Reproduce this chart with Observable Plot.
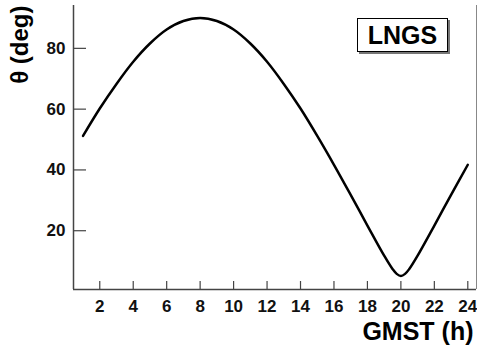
<!DOCTYPE html>
<html>
<head>
<meta charset="utf-8">
<script src="https://cdn.jsdelivr.net/npm/d3@7"></script>
<script src="https://cdn.jsdelivr.net/npm/@observablehq/plot@0.6"></script>
<style>
  html, body { margin: 0; padding: 0; background: #fff; }
  #wrap { position: relative; width: 477px; height: 347px; }
  #tag {
    position: absolute; left: 357px; top: 18px; width: 89px; height: 32px;
    border: 1.5px solid #000; box-shadow: 2px 2px 0 #777; background: #fff;
    font: bold 25px "Liberation Sans", Arial, sans-serif; color: #000;
    display: flex; align-items: center; justify-content: center;
  }
</style>
</head>
<body>
<div id="wrap"></div>
<script>
const hours = [1,2,3,4,5,6,7,8,9,10,11,12,13,14,15,16,17,18,19,19.5,19.75,20,20.25,20.5,21,22,23,24];
const theta = [51.2,60.2,68.3,75.6,81.6,86.2,89.0,90.0,89.0,86.2,81.6,75.6,68.3,60.2,51.2,41.7,31.8,21.7,11.8,7.4,5.8,5.1,5.8,7.4,11.8,21.7,31.8,41.7];
const xTicks = [2,4,6,8,10,12,14,16,18,20,22,24];
const yTicks = [20,40,60,80];
const xDomain = [0.43, 24.52];
const yDomain = [0.66, 94.1];
const xLabel = "GMST (h)";
const yLabel = "θ (deg)";
const siteLabel = "LNGS";

const data = hours.map((h, i) => ({h, t: theta[i]}));

const W = 477, H = 347, mL = 73, mR = 1, mT = 5, mB = 58;
const fw = W - mL - mR, fh = H - mT - mB;

const chart = Plot.plot({
  width: W, height: H,
  marginLeft: mL, marginRight: mR, marginTop: mT, marginBottom: mB,
  style: {fontFamily: "'Liberation Sans', Arial, sans-serif", fontSize: "17px", fontWeight: "bold", color: "#111", background: "#fff"},
  x: {domain: xDomain, ticks: xTicks, tickSize: 0, tickPadding: 10, label: null},
  y: {domain: yDomain, ticks: yTicks, tickSize: 0, tickPadding: 8, label: null},
  marks: [
    Plot.ruleX([xDomain[1]], {stroke: "#888", strokeWidth: 1}),
    Plot.ruleX([xDomain[0]], {stroke: "#444", strokeWidth: 1.5}),
    Plot.ruleY([yDomain[0]], {stroke: "#444", strokeWidth: 1.5}),
    Plot.tickX(xTicks, {x: d => d, insetTop: fh - 8, stroke: "#444", strokeWidth: 1.2}),
    Plot.tickY(yTicks, {y: d => d, insetRight: fw - 13, stroke: "#444", strokeWidth: 1.2}),
    Plot.line(data, {x: "h", y: "t", curve: "catmull-rom", stroke: "#000", strokeWidth: 2.5}),
    Plot.text([yLabel], {text: d => d, frameAnchor: "top-left", rotate: -90, textAnchor: "end", lineAnchor: "middle", dx: -53, dy: 0, fontSize: 24, fontWeight: "bold", fill: "#000"}),
    Plot.text([xLabel], {text: d => d, frameAnchor: "bottom-right", textAnchor: "end", lineAnchor: "bottom", dx: -3, dy: 50, fontSize: 25, fontWeight: "bold", fill: "#000"})
  ]
});

const wrap = document.getElementById("wrap");
wrap.appendChild(chart);
const tag = document.createElement("div");
tag.id = "tag";
tag.textContent = siteLabel;
wrap.appendChild(tag);
</script>
</body>
</html>
